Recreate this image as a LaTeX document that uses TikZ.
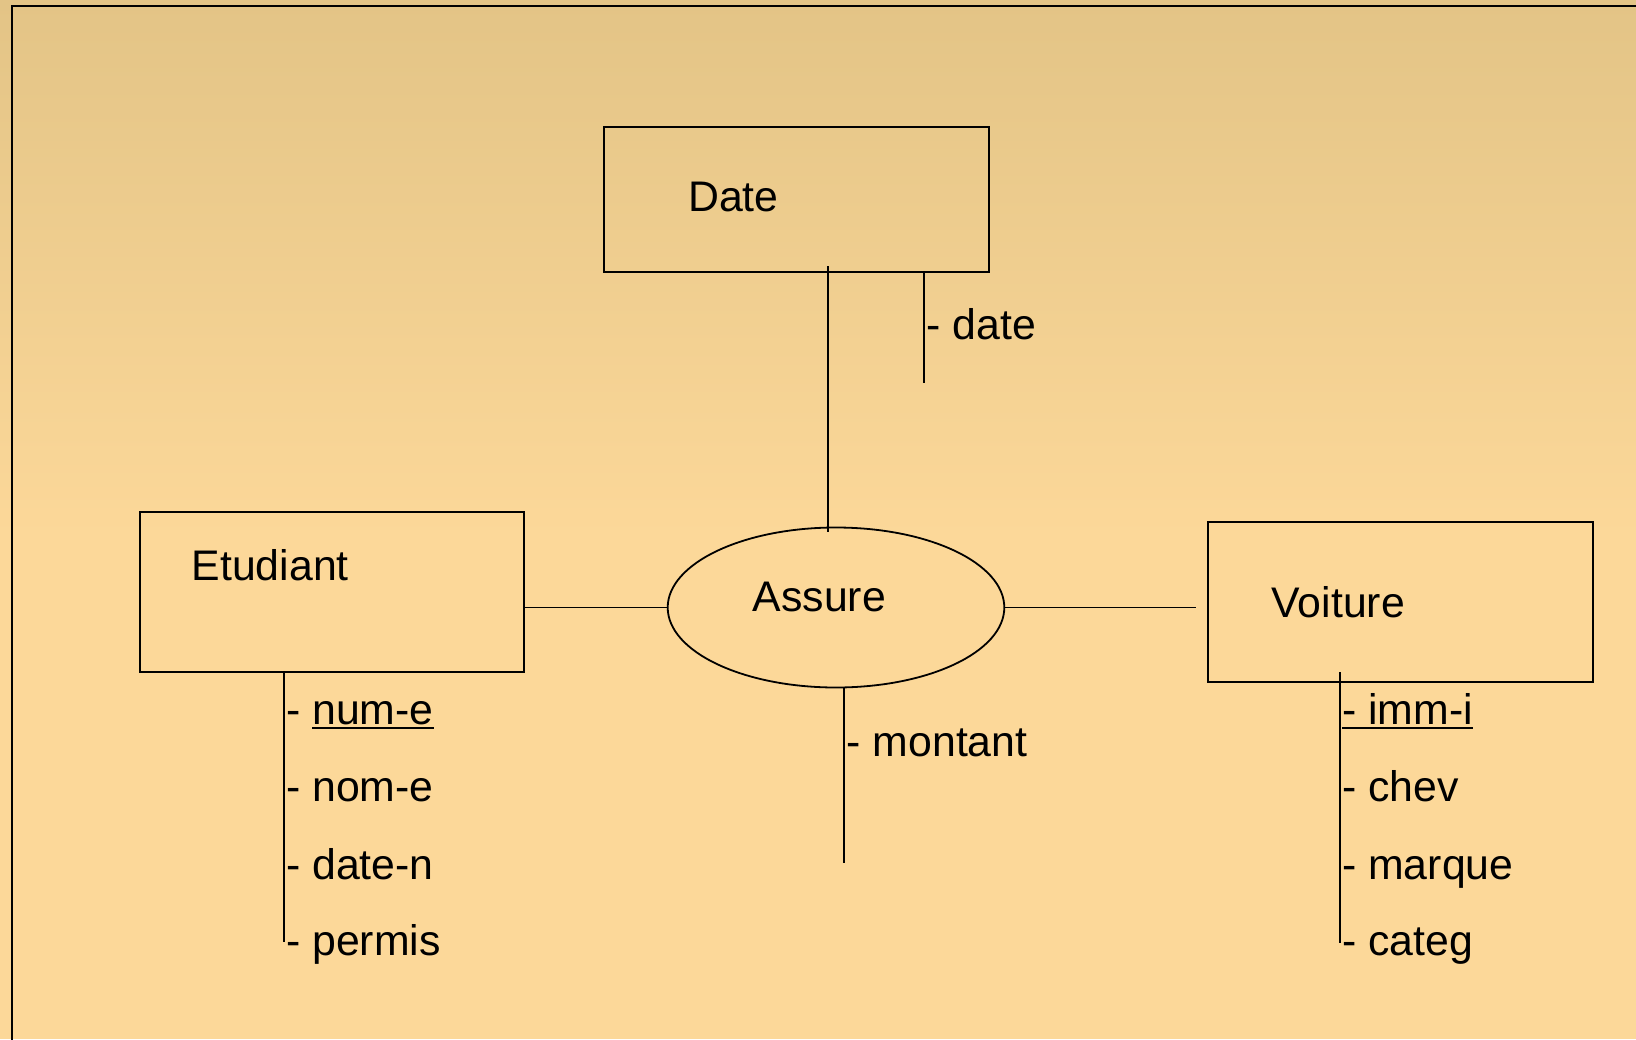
\documentclass[tikz,border=0pt]{standalone}
\usepackage{fontspec}
\setmainfont{Liberation Sans}
\usetikzlibrary{shapes.geometric}

\definecolor{bgtop}{RGB}{227,196,134}
\definecolor{bgbot}{RGB}{252,216,153}

% underlined key attribute
\newcommand\keyattr[1]{\setbox0\hbox{#1}\rlap{\rule[-5pt]{\wd0}{1.9pt}}\box0}

\tikzset{
  entity/.style={draw, line width=1.8pt, rectangle, inner sep=0pt},
  relation/.style={draw, line width=1.8pt, ellipse, inner sep=0pt},
  link/.style={line width=1.8pt},
  lbl/.style={anchor=base west, inner sep=0pt, font=\fontsize{42.8}{50}\selectfont},
}

\begin{document}
\begin{tikzpicture}[x=1pt, y=-1pt]
\useasboundingbox (0,0) rectangle (1636,1039);

% background and frame
\shade[top color=bgtop, bottom color=bgbot] (0,0) rectangle (1636,540);
\fill[bgbot] (0,539) rectangle (1636,1039);
\draw[line width=2.6pt] (12,1060) -- (12,6) -- (1660,6);

% entities and relation
\node[entity, minimum width=385pt, minimum height=144.4pt] (date) at (796.2,199.5) {};
\node[entity, minimum width=384.3pt, minimum height=160pt] (etud) at (332.2,591.7) {};
\node[entity, minimum width=385pt, minimum height=160pt] (voit) at (1400.2,601.7) {};
\node[relation, minimum width=336.6pt, minimum height=160pt] (assure) at (836,607.5) {};

% names
\node[lbl] (datename) at (688,211.7) {Date};
\node[lbl] (etudname) at (191.5,580) {Etudiant};
\node[lbl] (voitname) at (1271.5,617.3) {Voiture};
\node[lbl] (assname) at (752.5,611.7) {Assure};

% relation links
\coordinate (dtop) at (828,266);
\coordinate (dbot) at (828,532);
\coordinate (vstub) at (1196,607.5);
\draw[link] (dtop) -- (dbot);
\draw[link] (etud.east |- assure.west) -- (assure.west);
\draw[link] (assure.east) -- (vstub);

% attribute stems
\coordinate (dattrend) at (924,383.3);
\draw[link] (dattrend |- date.south) -- (dattrend);
\coordinate (mattrend) at (844.3,863.3);
\draw[link] (mattrend |- assure.south) -- (mattrend);
\coordinate (eattrend) at (284,941.7);
\draw[link] (eattrend |- etud.south) -- (eattrend);
\coordinate (vattrtop) at (1340.3,672.3);
\coordinate (vattrend) at (1340.3,943);
\draw[link] (vattrtop) -- (vattrend);

% attributes
\node[lbl] (adate) at (926.5,339.3) {- date};
\node[lbl] (amont) at (846.5,756) {- montant};

\node[lbl] (e1) at (286,724) {- \keyattr{num-e}};
\node[lbl] (e2) at (286,801.7) {- nom-e};
\node[lbl] (e3) at (286,879) {- date-n};
\node[lbl] (e4) at (286,955.7) {- permis};

\node[lbl] (v1) at (1342,724) {\keyattr{- imm-i}};
\node[lbl] (v2) at (1342,801.7) {- chev};
\node[lbl] (v3) at (1342,879) {- marque};
\node[lbl] (v4) at (1342,955.7) {- categ};
\end{tikzpicture}
\end{document}
